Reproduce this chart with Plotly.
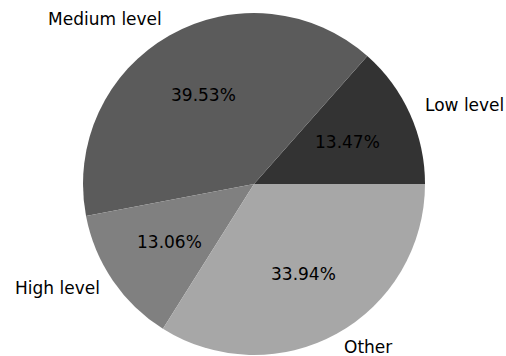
import numpy as np
import plotly.graph_objects as go

labels = ["Low level", "Medium level", "High level", "Other"]
values = [13.47, 39.53, 13.06, 33.94]
colors = ["#333333", "#5b5b5b", "#808080", "#a7a7a7"]

W, H = 506, 356
cx, cy = 254, 172          # pie centre in pixels (y measured from bottom)
r = 171                    # pie radius in pixels

vals = np.array(values, dtype=float)
fracs = vals / vals.sum()

fig = go.Figure(go.Pie(
    labels=labels,
    values=values,
    marker=dict(colors=colors, line=dict(width=0)),
    sort=False,
    direction="counterclockwise",
    # first slice begins at 3 o'clock and the rest follow counterclockwise
    rotation=90 - fracs[0] * 360,
    textinfo="none",
    hoverinfo="label+percent",
    showlegend=False,
    domain=dict(x=[(cx - r) / W, (cx + r) / W], y=[(cy - r) / H, (cy + r) / H]),
))

# Slice labels outside the pie and percentages inside it
ends = np.cumsum(fracs) * 2 * np.pi
mids = ends - fracs * np.pi
font = dict(family="DejaVu Sans", size=17, color="black")
annotations = []
for lab, f, th in zip(labels, fracs, mids):
    lx = cx + 1.1 * r * np.cos(th)
    ly = cy + 1.1 * r * np.sin(th)
    annotations.append(dict(
        x=lx / W, y=ly / H, xref="paper", yref="paper",
        text=lab, showarrow=False, font=font,
        xanchor="left" if np.cos(th) > 0 else "right", yanchor="middle",
        xshift=-2 if np.cos(th) > 0 else 2, yshift=2, borderpad=0,
    ))
    px = cx + 0.6 * r * np.cos(th)
    py = cy + 0.6 * r * np.sin(th)
    annotations.append(dict(
        x=px / W, y=py / H, xref="paper", yref="paper",
        text=f"{f * 100:.2f}%", showarrow=False, font=font,
        xanchor="center", yanchor="middle", borderpad=0,
    ))

fig.update_layout(
    width=W, height=H,
    margin=dict(l=0, r=0, t=0, b=0),
    paper_bgcolor="white",
    plot_bgcolor="white",
    annotations=annotations,
)

fig.write_html("out.html")
